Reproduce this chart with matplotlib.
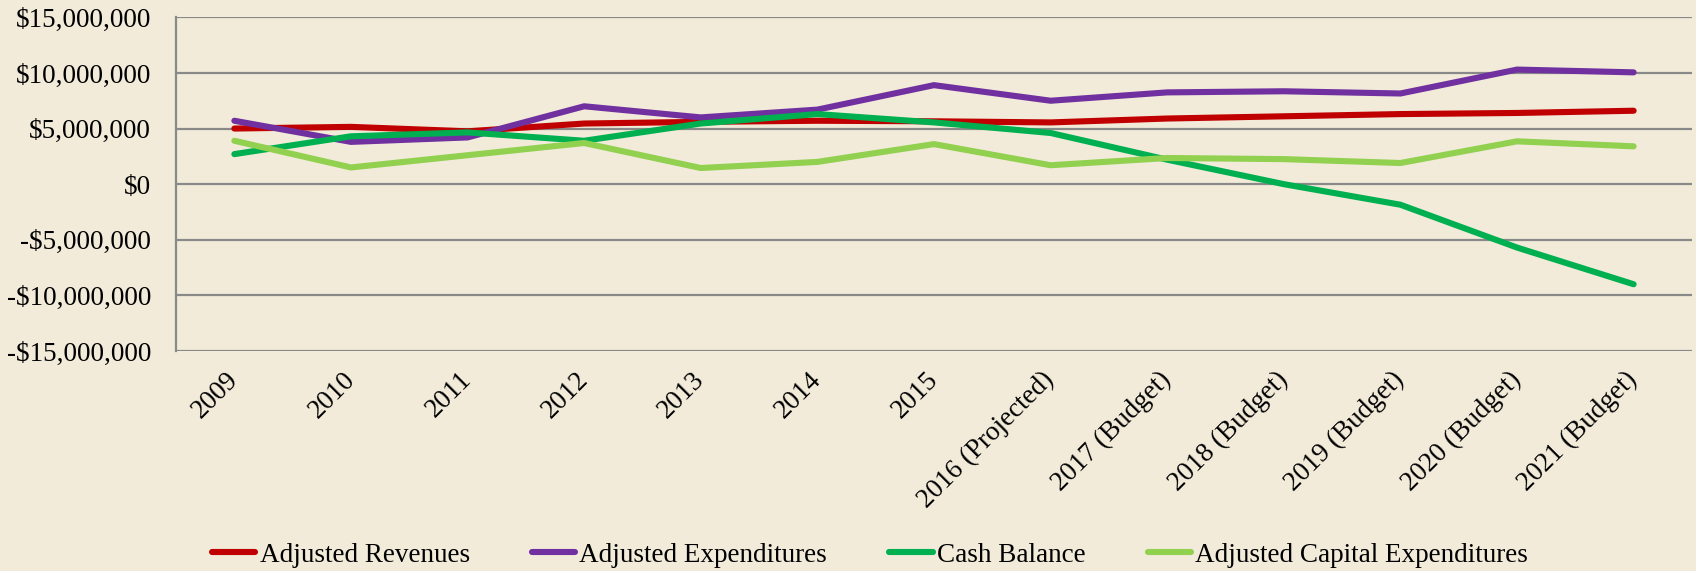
import matplotlib
matplotlib.use('Agg')
import matplotlib.pyplot as plt
from matplotlib.ticker import FuncFormatter, MultipleLocator

# Chart data (values in dollars)
years = ["2009", "2010", "2011", "2012", "2013", "2014", "2015",
         "2016 (Projected)", "2017 (Budget)", "2018 (Budget)",
         "2019 (Budget)", "2020 (Budget)", "2021 (Budget)"]

adj_revenues = [5.0e6, 5.15e6, 4.75e6, 5.45e6, 5.6e6, 5.7e6, 5.65e6,
                5.55e6, 5.9e6, 6.1e6, 6.3e6, 6.4e6, 6.6e6]
adj_expenditures = [5.7e6, 3.8e6, 4.2e6, 7.0e6, 6.0e6, 6.7e6, 8.9e6,
                    7.5e6, 8.25e6, 8.35e6, 8.15e6, 10.3e6, 10.05e6]
cash_balance = [2.7e6, 4.3e6, 4.65e6, 3.9e6, 5.45e6, 6.3e6, 5.55e6,
                4.6e6, 2.2e6, 0.0, -1.85e6, -5.7e6, -9.0e6]
adj_capital_exp = [3.9e6, 1.5e6, 2.6e6, 3.7e6, 1.45e6, 2.0e6, 3.6e6,
                   1.7e6, 2.35e6, 2.25e6, 1.9e6, 3.85e6, 3.4e6]

bg = "#F2EBDA"
grid_col = "#898989"

plt.rcParams['font.family'] = ['Liberation Serif', 'DejaVu Serif']

fig = plt.figure(figsize=(16.96, 5.71), dpi=100, facecolor=bg)
ax = fig.add_axes([0.1038, 0.3853, 0.8938, 0.5844])
ax.set_facecolor(bg)

x = list(range(len(years)))
lw = 4.4
ax.plot(x, adj_revenues, color="#C00000", lw=lw, label="Adjusted Revenues", solid_capstyle="round")
ax.plot(x, adj_expenditures, color="#7030A0", lw=lw, label="Adjusted Expenditures", solid_capstyle="round")
ax.plot(x, cash_balance, color="#00B050", lw=lw, label="Cash Balance", solid_capstyle="round")
ax.plot(x, adj_capital_exp, color="#92D050", lw=lw, label="Adjusted Capital Expenditures", solid_capstyle="round")

ax.set_xlim(-0.5, len(years) - 0.5)
ax.set_ylim(-15e6, 15e6)
ax.yaxis.set_major_locator(MultipleLocator(5e6))


def money(v, pos):
    v = int(round(v))
    if v < 0:
        return "-${:,}".format(-v)
    return "${:,}".format(v)


ax.yaxis.set_major_formatter(FuncFormatter(money))
ax.grid(axis="y", color=grid_col, lw=1.6)
ax.set_axisbelow(True)

for s in ["top", "right", "bottom"]:
    ax.spines[s].set_visible(False)
ax.spines["left"].set_color(grid_col)
ax.spines["left"].set_linewidth(1.6)

ax.set_xticks(x)
ax.set_xticklabels(years, rotation=45, ha="right", va="center", rotation_mode="anchor")
ax.tick_params(axis="x", length=0, pad=18, labelsize=19.5)
ax.tick_params(axis="y", length=0, pad=18, labelsize=19.5)

fig.legend(loc="center", bbox_to_anchor=(0.513, 0.028), ncol=4, frameon=False,
           fontsize=19.5, handlelength=1.6, handletextpad=0.15, columnspacing=2.3)

fig.savefig("out.png", dpi=100, facecolor=bg)
